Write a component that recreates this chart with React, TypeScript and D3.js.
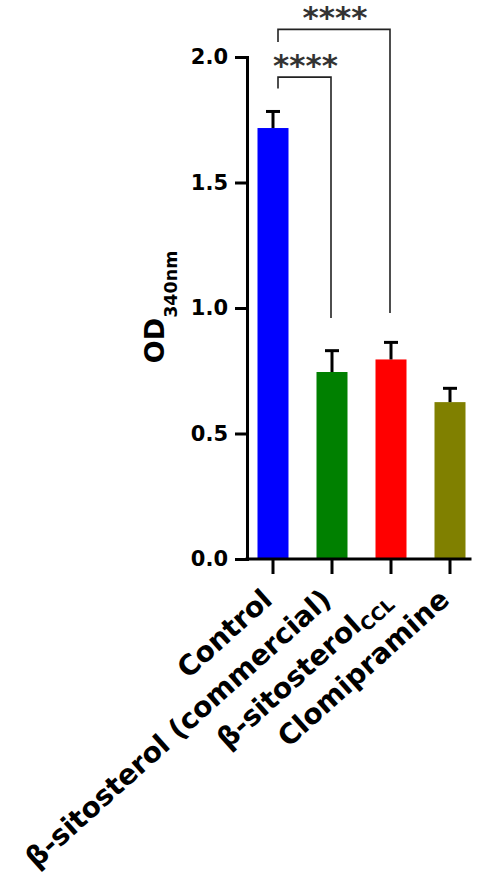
import * as d3 from "d3";
import { useEffect, useRef } from "react";

// values
const categories = ["Control", "β-sitosterol (commercial)", "β-sitosterolCCL", "Clomipramine"];
const labelMain = ["Control", "β-sitosterol (commercial)", "β-sitosterol", "Clomipramine"];
const labelSub = ["", "", "CCL", ""];
const means = [1.717, 0.745, 0.795, 0.625];
const sds = [0.066, 0.085, 0.068, 0.055];
const barColors = ["#0000ff", "#008000", "#ff0000", "#808000"];
const yTicks = [0, 0.5, 1.0, 1.5, 2.0];

// significance brackets (index pairs), bracket top and leg ends in OD units
const compFrom = [0, 0];
const compTo = [1, 2];
const compLabel = ["****", "****"];
const compTop = [1.92, 2.11];
const compLeftEnd = [1.875, 2.06];
const compRightEnd = [0.96, 0.98];

const W = 477;
const H = 876;
const FONT = "'DejaVu Sans', Verdana, sans-serif";

export default function App() {
    const svgRef = useRef(null);

    useEffect(() => {
        const svg = d3.select(svgRef.current);
        svg.selectAll("*").remove();

        const left = 247, right = 470, top = 57, bottom = 559;
        const barW = 31;

        const y = d3.scaleLinear().domain([0, 2]).range([bottom, top]);
        const x = d3.scalePoint().domain(categories).range([273, 450]);

        // bars
        svg.append("g")
            .selectAll("rect")
            .data(categories)
            .join("rect")
            .attr("x", (c) => x(c) - barW / 2)
            .attr("y", (c, i) => y(means[i]))
            .attr("width", barW)
            .attr("height", (c, i) => y(0) - y(means[i]))
            .attr("fill", (c, i) => barColors[i]);

        // error bars (upper only)
        const err = svg.append("g").attr("stroke", "#000").attr("stroke-width", 3);
        err.selectAll("line.stem")
            .data(categories)
            .join("line")
            .attr("class", "stem")
            .attr("x1", (c) => x(c))
            .attr("x2", (c) => x(c))
            .attr("y1", (c, i) => y(means[i]))
            .attr("y2", (c, i) => y(means[i] + sds[i]));
        err.selectAll("line.cap")
            .data(categories)
            .join("line")
            .attr("class", "cap")
            .attr("x1", (c) => x(c) - 7)
            .attr("x2", (c) => x(c) + 7)
            .attr("y1", (c, i) => y(means[i] + sds[i]))
            .attr("y2", (c, i) => y(means[i] + sds[i]));

        // y axis
        const yAxis = svg.append("g")
            .attr("transform", `translate(${left},0)`)
            .call(d3.axisLeft(y).tickValues(yTicks).tickFormat(d3.format(".1f")).tickSize(12).tickSizeOuter(0).tickPadding(7));
        yAxis.select(".domain").attr("stroke-width", 3).attr("stroke-linecap", "square");
        yAxis.selectAll(".tick line").attr("stroke-width", 3);
        yAxis.selectAll(".tick text")
            .attr("font-family", FONT)
            .attr("font-weight", "bold")
            .attr("font-size", 21)
            .attr("fill", "#000");

        // x axis
        svg.append("line")
            .attr("x1", left).attr("x2", right)
            .attr("y1", bottom).attr("y2", bottom)
            .attr("stroke", "#000").attr("stroke-width", 3).attr("stroke-linecap", "square");
        svg.append("g")
            .selectAll("line")
            .data(categories)
            .join("line")
            .attr("x1", (c) => x(c)).attr("x2", (c) => x(c))
            .attr("y1", bottom).attr("y2", bottom + 15)
            .attr("stroke", "#000").attr("stroke-width", 3);

        // category labels
        const labels = svg.append("g")
            .selectAll("text")
            .data(categories)
            .join("text")
            .attr("transform", (c) => `translate(${x(c) + 1},${bottom + 43}) rotate(-42)`)
            .attr("text-anchor", "end")
            .attr("font-family", FONT)
            .attr("font-weight", "bold")
            .attr("font-size", 28)
            .attr("fill", "#000");
        labels.append("tspan").text((c, i) => labelMain[i]);
        labels.filter((c, i) => labelSub[i] !== "")
            .append("tspan")
            .attr("font-size", 18.5)
            .attr("dy", 6)
            .text((c) => labelSub[categories.indexOf(c)]);

        // y title
        const title = svg.append("text")
            .attr("transform", `translate(164,${y(0.78)}) rotate(-90)`)
            .attr("font-family", FONT)
            .attr("font-weight", "bold")
            .attr("fill", "#000");
        title.append("tspan").attr("font-size", 27).text("OD");
        title.append("tspan").attr("font-size", 17.5).attr("dy", 13).text("340nm");

        // significance brackets
        const comps = compFrom.map((f, i) => i);
        const br = svg.append("g");
        br.selectAll("path")
            .data(comps)
            .join("path")
            .attr("d", (i) => {
                const x1 = x(categories[compFrom[i]]) + 5;
                const x2 = x(categories[compTo[i]]) - 1;
                return `M${x1},${y(compLeftEnd[i])}V${y(compTop[i])}H${x2}V${y(compRightEnd[i])}`;
            })
            .attr("fill", "none")
            .attr("stroke", "#222")
            .attr("stroke-width", 1.6);
        br.selectAll("text")
            .data(comps)
            .join("text")
            .attr("x", (i) => (x(categories[compFrom[i]]) + x(categories[compTo[i]])) / 2 + 3)
            .attr("y", (i) => y(compTop[i]) - 1)
            .attr("text-anchor", "middle")
            .attr("font-family", FONT)
            .attr("font-weight", "bold")
            .attr("font-size", 31)
            .attr("fill", "#333")
            .text((i) => compLabel[i]);
    }, []);

    return <svg ref={svgRef} width={W} height={H} style={{ position: "absolute", left: 0, top: 0, background: "#fff" }} />;
}
